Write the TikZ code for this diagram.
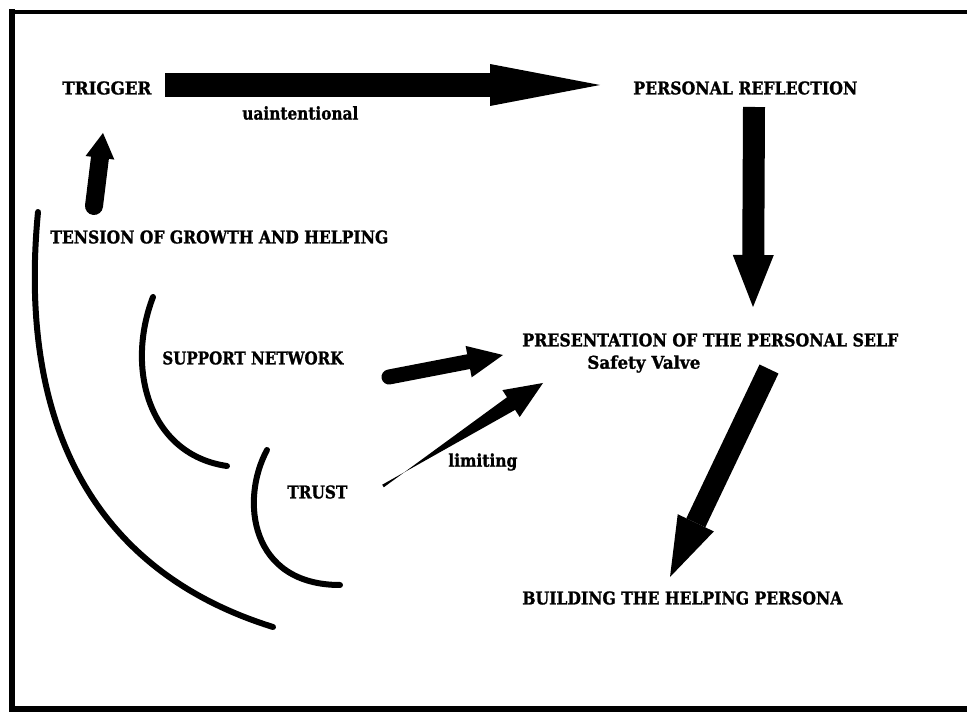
\documentclass[tikz,border=0pt]{standalone}
\usepackage{fontspec}
\usepackage{graphicx}
\setmainfont{DejaVu Serif}
\newfontfamily\heavyfont{DejaVu Serif}[BoldFeatures={FakeBold=1.3}]
\usetikzlibrary{arrows.meta,calc}
\newlength\pxu
\setlength\pxu{0.02cm}
% set a label to a given width (in drawing units), keeping its height
\newcommand\fitw[2]{\resizebox{#1\pxu}{\height}{#2}}
\begin{document}
\begin{tikzpicture}[x=0.02cm,y=-0.02cm,
  lbl/.style={inner sep=0pt, anchor=west, font=\heavyfont\fontsize{10}{12}\selectfont\bfseries},
  curve/.style={line width=0.12cm, line cap=round},
  blockarrow/.style={line width=#1}
]
\useasboundingbox (0,0) rectangle (967,712);
\fill[white] (0,0) rectangle (967,712);

% page frame (open on the right)
\draw[line width=0.09cm] (9,12) -- (967,12);
\draw[line width=0.13cm] (12,9) -- (12,712);
\draw[line width=0.11cm] (9,709) -- (967,709);

% labels
\node[lbl] (trigger) at (62,88) {\fitw{89}{TRIGGER}};
\node[lbl] (reflection) at (633,88) {\fitw{224}{PERSONAL REFLECTION}};
\node[lbl] (unint) at (242,113) {\fitw{116}{uaintentional}};
\node[lbl] (tension) at (50,237) {\fitw{338}{TENSION OF GROWTH AND HELPING}};
\node[lbl] (support) at (162,358) {\fitw{181}{SUPPORT NETWORK}};
\node[lbl] (trust) at (287,492) {\fitw{60}{TRUST}};
\node[lbl] (limiting) at (448,462) {\fitw{69}{limiting}};
\node[lbl] (presentation) at (522,340) {\fitw{376}{PRESENTATION OF THE PERSONAL SELF}};
\node[lbl] (valve) at (587,364) {\fitw{113}{Safety Valve}};
\node[lbl] (building) at (522,598) {\fitw{320}{BUILDING THE HELPING PERSONA}};

% arrow end points
\coordinate (trgA) at (165,85);
\coordinate (trgB) at (600,85);
\coordinate (refA) at (754,107);
\coordinate (refB) at (753,307);
\coordinate (tenA) at (94,206);
\coordinate (tenB) at (103,133);
\coordinate (supA) at (389,377);
\coordinate (supB) at (503,355);
\coordinate (truA) at (383,486);
\coordinate (truB) at (543,383);
\coordinate (preA) at (769,369);
\coordinate (preB) at (670,577);

% block arrows
\draw[blockarrow=0.48cm, -{Triangle[length=2.2cm,width=0.84cm,line width=0pt]}] (trgA) -- (trgB);
\draw[blockarrow=0.44cm, -{Triangle[length=1.04cm,width=0.82cm,line width=0pt]}] (refA) -- (refB);
\draw[blockarrow=0.36cm, line cap=round, -{Triangle[length=0.5cm,width=0.58cm,line width=0pt]}] (tenA) -- (tenB);
\draw[blockarrow=0.30cm, line cap=round, -{Triangle[length=0.7cm,width=0.64cm,line width=0pt]}] (supA) -- (supB);
\draw[blockarrow=0.42cm, -{Triangle[length=1.2cm,width=0.8cm,line width=0pt]}] (preA) -- (preB);

% tapered arrow from TRUST
\coordinate (truH) at ($(truB)!0.76cm!(truA)$);
\fill ($(truA)!0.03cm!90:(truB)$) -- ($(truH)!0.15cm!-90:(truB)$)
  -- ($(truH)!0.32cm!-90:(truB)$) -- (truB) -- ($(truH)!0.32cm!90:(truB)$)
  -- ($(truH)!0.15cm!90:(truB)$) -- ($(truA)!0.03cm!-90:(truB)$) -- cycle;

% nested curves
\draw[curve] (38,212) .. controls (18,420) and (90,570) .. (273,627);
\draw[curve] (153,297) .. controls (125,370) and (150,455) .. (227,466);
\draw[curve] (267,450) .. controls (240,500) and (250,585) .. (340,585);
\end{tikzpicture}
\end{document}
